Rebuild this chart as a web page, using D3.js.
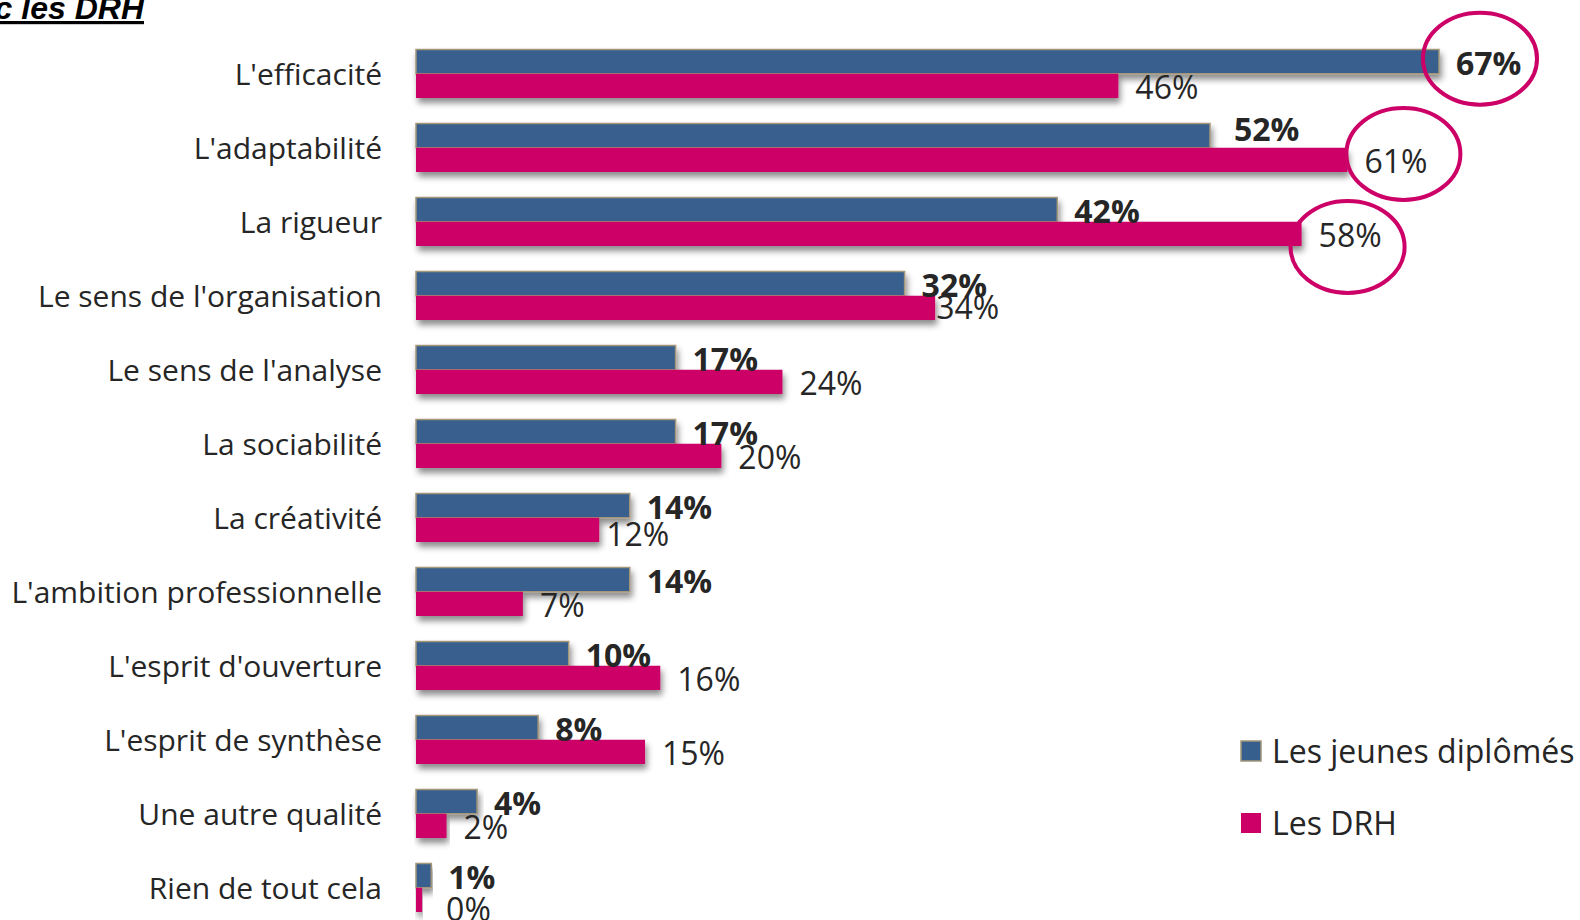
<!DOCTYPE html>
<html lang="fr">
<head>
<meta charset="utf-8">
<script src="https://cdn.jsdelivr.net/npm/d3@7"></script>
<style>
  html, body { margin: 0; padding: 0; background: #fff; }
  svg { display: block; }
</style>
</head>
<body>
<svg id="chart" width="1580" height="920"></svg>
<script>
// Qualités citées : jeunes diplômés vs DRH (en %)
const categories = [
  "L'efficacité",
  "L'adaptabilité",
  "La rigueur",
  "Le sens de l'organisation",
  "Le sens de l'analyse",
  "La sociabilité",
  "La créativité",
  "L'ambition professionnelle",
  "L'esprit d'ouverture",
  "L'esprit de synthèse",
  "Une autre qualité",
  "Rien de tout cela"
];
const seriesNames = ["Les jeunes diplômés", "Les DRH"];
const jeunesDiplomes = [67, 52, 42, 32, 17, 17, 14, 14, 10, 8, 4, 1];
const drh = [46, 61, 58, 34, 24, 20, 12, 7, 16, 15, 2, 0.4];
// Valeurs entourées dans le graphique
const highlights = [
  { category: "L'efficacité", series: "Les jeunes diplômés" },
  { category: "L'adaptabilité", series: "Les DRH" },
  { category: "La rigueur", series: "Les DRH" }
];

const COLORS = { "Les jeunes diplômés": "#375F8E", "Les DRH": "#CC0066" };
const TEXT = "#262626";
const FONT = "'Open Sans', 'Noto Sans', sans-serif";

// Étiquettes déplacées à la main pour éviter les chevauchements
const labelShift = {
  "L'adaptabilité|Les jeunes diplômés": [7, -8],
  "Le sens de l'organisation|Les DRH": [-16, -2],
  "La créativité|Les DRH": [-10, 3],
  "Rien de tout cela|Les DRH": [7, 8]
};

const svg = d3.select("#chart");

// Ombre portée des barres
const defs = svg.append("defs");
const shadow = defs.append("filter").attr("id", "barShadow")
  .attr("x", "-5%").attr("y", "-30%").attr("width", "115%").attr("height", "180%");
shadow.append("feDropShadow")
  .attr("dx", 2).attr("dy", 5).attr("stdDeviation", 3)
  .attr("flood-color", "#000").attr("flood-opacity", 0.45);

// Titre (coupé à gauche)
svg.append("text")
  .attr("x", 144).attr("y", 19)
  .attr("text-anchor", "end")
  .style("font-family", "Arial, 'Liberation Sans', sans-serif")
  .style("font-size", "32px").style("font-weight", "bold").style("font-style", "italic")
  .style("text-decoration", "underline")
  .attr("fill", "#000")
  .text("Les qualités attendues, en comparaison avec les DRH");

const rows = categories.map((c, i) => ({
  category: c,
  values: [
    { category: c, series: seriesNames[0], value: jeunesDiplomes[i] },
    { category: c, series: seriesNames[1], value: drh[i] }
  ]
}));

const x = d3.scaleLinear().domain([0, 67]).range([416, 1439]);
const y0 = d3.scaleBand().domain(categories).range([37, 37 + 74 * categories.length]).padding(0);
const y1 = d3.scaleBand().domain(seriesNames).range([12.5, 61]).padding(0);

// Libellés des catégories
svg.append("g").selectAll("text")
  .data(categories).join("text")
  .attr("x", 382)
  .attr("y", d => y0(d) + 37)
  .attr("dy", "0.36em")
  .attr("text-anchor", "end")
  .attr("fill", TEXT)
  .style("font-family", FONT).style("font-size", "30px")
  .text(d => d);

const groups = svg.append("g").selectAll("g")
  .data(rows).join("g")
  .attr("transform", d => `translate(0,${y0(d.category)})`);

// Barres : d'abord les jeunes diplômés, puis les DRH par-dessus
seriesNames.forEach(s => {
  groups.append("rect")
    .datum(d => d.values.find(v => v.series === s))
    .attr("x", x(0))
    .attr("y", d => y1(d.series))
    .attr("width", d => x(d.value) - x(0))
    .attr("height", y1.bandwidth())
    .attr("fill", COLORS[s])
    .attr("stroke", s === seriesNames[0] ? "#A3967A" : "none")
    .attr("stroke-width", 1.5)
    .attr("filter", "url(#barShadow)");
});

// Étiquettes de valeurs
const fmt = d => d3.format(".0f")(d) + "%";
const shiftOf = d => labelShift[d.category + "|" + d.series] || [0, 0];
seriesNames.forEach(s => {
  groups.append("text")
    .datum(d => d.values.find(v => v.series === s))
    .attr("x", d => x(d.value) + 17 + shiftOf(d)[0])
    .attr("y", d => y1(d.series) + y1.bandwidth() / 2 + 2 + shiftOf(d)[1])
    .attr("dy", "0.36em")
    .attr("fill", TEXT)
    .style("font-family", FONT).style("font-size", "32px")
    .style("font-weight", s === seriesNames[0] ? "bold" : "normal")
    .text(d => fmt(d.value));
});

// Ellipses de mise en évidence
const ellipseOffsets = [
  { dx: 41, dy: -3 },
  { dx: 56, dy: -6 },
  { dx: 46, dy: 13 }
];
svg.append("g").selectAll("ellipse")
  .data(highlights).join("ellipse")
  .attr("cx", (d, i) => {
    const idx = categories.indexOf(d.category);
    const v = d.series === seriesNames[0] ? jeunesDiplomes[idx] : drh[idx];
    return x(v) + ellipseOffsets[i].dx;
  })
  .attr("cy", (d, i) => y0(d.category) + y1(d.series) + y1.bandwidth() / 2 + ellipseOffsets[i].dy)
  .attr("rx", 57).attr("ry", 46)
  .attr("fill", "none")
  .attr("stroke", "#CC0066")
  .attr("stroke-width", 4);

// Légende
const legend = svg.append("g").selectAll("g")
  .data(seriesNames).join("g")
  .attr("transform", (d, i) => `translate(1241,${741 + i * 72})`);
legend.append("rect")
  .attr("width", 20).attr("height", 20)
  .attr("fill", d => COLORS[d])
  .attr("stroke", d => d === seriesNames[0] ? "#A3967A" : "none")
  .attr("stroke-width", 1.5);
legend.append("text")
  .attr("x", 31).attr("y", 10).attr("dy", "0.36em")
  .attr("fill", TEXT)
  .style("font-family", FONT).style("font-size", "32px")
  .text(d => d);
</script>
</body>
</html>
